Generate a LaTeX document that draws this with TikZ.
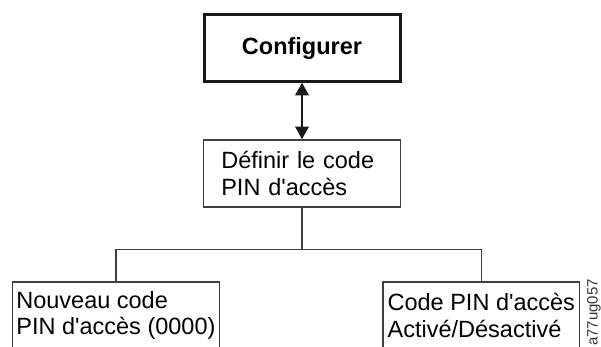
\documentclass[tikz,border=0pt]{standalone}
\usepackage{fontspec}
\setmainfont{Liberation Sans}[Ligatures=TeXOff]
\usepackage{tikz}
\usetikzlibrary{arrows.meta,positioning}

\begin{document}
\begin{tikzpicture}[
    x=1pt, y=1pt,
    node distance=56.6pt,
    b1/.style={rectangle, draw=black!90, line width=3pt, align=center, minimum height=66.4pt, minimum width=196pt, font=\fontsize{23.5}{26.5}\selectfont\bfseries},
    b2/.style={rectangle, draw=black!75, line width=1.3pt, align=left, minimum height=67.1pt, minimum width=196.4pt, inner xsep=4pt, font=\fontsize{23.5}{26.5}\selectfont},
    arr/.style={{Triangle[length=12.7pt,width=13.3pt]}-{Triangle[length=12.7pt,width=13.3pt]}, line width=2.5pt, draw=black!90},
    lnk/.style={line width=1.3pt, draw=black!75}
]
    \clip (0,0) rectangle (601,347);
    \node [b1] (cfg) at (302,299) {Configurer};
    \node [b2, below=of cfg, inner xsep=17.5pt, text width=161.4pt] (def) {Définir le code\\PIN d'accès};
    \node [b2, minimum width=207pt] (nouv) at (115.9,31.5) {Nouveau code\\PIN d'accès (0000)};
    \node [b2] (etat) at (481.3,31.5) {Code PIN d'accès\\Activé/Désactivé};
    \node [rotate=90, anchor=base east, font=\fontsize{15}{15}\selectfont, text=black!80, inner sep=0pt] (ref) at (597.5,68) {a77ug057};
    \coordinate (hub) at (302,97.7);

    \draw [arr] (cfg) -- (def);
    \draw [lnk] (def) -- (hub);
    \draw [lnk] (hub) -| (nouv);
    \draw [lnk] (hub) -| (etat);
\end{tikzpicture}
\end{document}
